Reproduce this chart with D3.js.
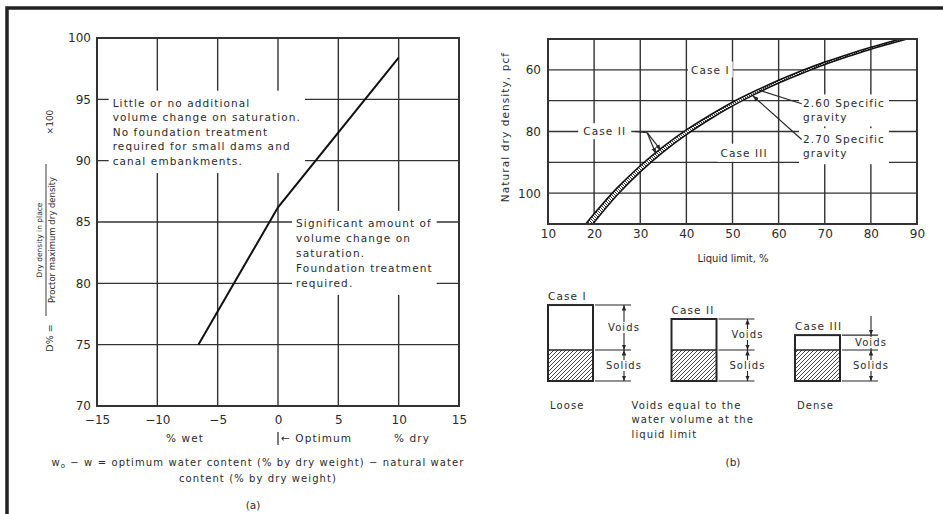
<!DOCTYPE html>
<html>
<head>
<meta charset="utf-8">
<script src="https://cdn.jsdelivr.net/npm/d3@7"></script>
<style>
  body { margin: 0; background: #fff; }
  svg text { font-family: "DejaVu Sans", sans-serif; fill: #2b2b2b; }
  svg text.lt { letter-spacing: 1.1px; }
</style>
</head>
<body>
<svg id="chart" width="943" height="514"></svg>
<script>
// ---- data ----
// (a) D% against wo - w
var aXTicks = [-15, -10, -5, 0, 5, 10, 15];
var aYTicks = [70, 75, 80, 85, 90, 95, 100];
var aWaterDiff = [-6.6, 0, 10];
var aDensity = [75, 86.2, 98.4];

// (b) natural dry density against liquid limit
var bXTicks = [10, 20, 30, 40, 50, 60, 70, 80, 90];
var bYGrid = [60, 70, 80, 90, 100];
var bYTicks = [60, 80, 100];
var bLL260 = [18.2, 20, 25, 30, 35, 40, 45, 50, 55, 60, 65, 70, 75, 80, 86.4];
var bDens260 = [110, 106.7, 98.3, 91.1, 84.9, 79.5, 74.8, 70.5, 66.8, 63.4, 60.3, 57.5, 55.0, 52.7, 50];
var bLL270 = [19.7, 25, 30, 35, 40, 45, 50, 55, 60, 65, 70, 75, 80, 87.8];
var bDens270 = [110, 100.6, 93.1, 86.6, 81.0, 76.1, 71.7, 67.8, 64.3, 61.2, 58.3, 55.7, 53.3, 50];

// volume diagrams (solids = 1)
var caseNames = ["Case I", "Case II", "Case III"];
var caseVoids = [1.45, 1.0, 0.48];
var caseSolids = [1, 1, 1];
var caseNotes = [["Loose"], ["Voids equal to the", "water volume at the", "liquid limit"], ["Dense"]];

var ink = "#262626";
var svg = d3.select("#chart");
var defs = svg.append("defs");

// hatch for solids and for the band between curves
var pat = defs.append("pattern").attr("id", "hatch")
  .attr("patternUnits", "userSpaceOnUse").attr("width", 4).attr("height", 4);
pat.append("rect").attr("width", 4).attr("height", 4).attr("fill", "#fff");
pat.append("path").attr("d", "M-1,1L1,-1M0,4L4,0M3,5L5,3")
  .attr("stroke", "#333").attr("stroke-width", 0.9);

var band = defs.append("pattern").attr("id", "band")
  .attr("patternUnits", "userSpaceOnUse").attr("width", 3).attr("height", 3);
band.append("rect").attr("width", 3).attr("height", 3).attr("fill", "#fff");
band.append("path").attr("d", "M0,0L3,3M-1,2L1,4M2,-1L4,1")
  .attr("stroke", "#222").attr("stroke-width", 0.9);

defs.append("marker").attr("id", "arr")
  .attr("viewBox", "0 0 10 10").attr("refX", 10).attr("refY", 5)
  .attr("markerWidth", 5).attr("markerHeight", 6)
  .attr("orient", "auto-start-reverse")
  .append("path").attr("d", "M0,1L10,5L0,9Z").attr("fill", ink);

// page frame
svg.append("path").attr("d", "M7,514V8H943")
  .attr("fill", "none").attr("stroke", "#222").attr("stroke-width", 3.5);

// white box behind a text so the grid breaks round it
function knockout(layer, node, px, py) {
  var b = node.getBBox();
  layer.append("rect")
    .attr("x", b.x - px).attr("y", b.y - py)
    .attr("width", b.width + 2 * px).attr("height", b.height + 2 * py)
    .attr("fill", "#fff");
}

function textBlock(layer, lines, x, y, lh, size, anchor) {
  var t = layer.append("text")
    .attr("class", "lt")
    .attr("font-size", size)
    .attr("text-anchor", anchor || "start");
  lines.forEach((s, i) => {
    t.append("tspan").attr("x", x).attr("y", y + i * lh)
      .attr("dy", "0.35em").text(s);
  });
  return t;
}

// =========================== (a) ===========================
var ax = d3.scaleLinear().domain([-15, 15]).range([97, 459]);
var ay = d3.scaleLinear().domain([70, 100]).range([406, 38]);

var aGrid = svg.append("g");
var aBg = svg.append("g");
var aMarks = svg.append("g");
var aText = svg.append("g");

aGrid.selectAll("line.v").data(aXTicks.slice(1, -1)).enter().append("line")
  .attr("x1", d => ax(d)).attr("x2", d => ax(d))
  .attr("y1", ay(100)).attr("y2", ay(70))
  .attr("stroke", "#333").attr("stroke-width", 1.4);
aGrid.selectAll("line.h").data(aYTicks.slice(1, -1)).enter().append("line")
  .attr("x1", ax(-15)).attr("x2", ax(15))
  .attr("y1", d => ay(d)).attr("y2", d => ay(d))
  .attr("stroke", "#333").attr("stroke-width", 1.4);

var note1 = textBlock(aText, ["Little or no additional", "volume change on saturation.",
  "No foundation treatment", "required for small dams and", "canal embankments."],
  ax(-13.7), ay(94.7), 14.6, 10.5);
knockout(aBg, note1.node(), 4, 6);

var note2 = textBlock(aText, ["Significant amount of", "volume change on",
  "saturation.", "Foundation treatment", "required."],
  ax(1.5), ay(84.9), 15, 10.5);
knockout(aBg, note2.node(), 4, 6);

var aLine = d3.line()
  .x((d, i) => ax(aWaterDiff[i]))
  .y(d => ay(d));
aMarks.append("path").datum(aDensity)
  .attr("d", aLine).attr("fill", "none")
  .attr("stroke", "#111").attr("stroke-width", 2);

aMarks.append("rect")
  .attr("x", ax(-15)).attr("y", ay(100))
  .attr("width", ax(15) - ax(-15)).attr("height", ay(70) - ay(100))
  .attr("fill", "none").attr("stroke", "#333").attr("stroke-width", 2);

var aXAxis = svg.append("g")
  .attr("transform", `translate(0,${ay(70)})`)
  .call(d3.axisBottom(ax).tickValues(aXTicks).tickSize(0).tickPadding(9))
  .attr("font-size", 12);
aXAxis.select(".domain").remove();

var aYAxis = svg.append("g")
  .attr("transform", `translate(${ax(-15)},0)`)
  .call(d3.axisLeft(ay).tickValues(aYTicks).tickSize(0).tickPadding(6))
  .attr("font-size", 12);
aYAxis.select(".domain").remove();

// axis captions
aText.append("text").attr("class", "lt").attr("x", 185).attr("y", 442)
  .attr("font-size", 10.5).attr("text-anchor", "middle").text("% wet");
aText.append("line")
  .attr("x1", ax(0)).attr("x2", ax(0)).attr("y1", 432).attr("y2", 445)
  .attr("stroke", ink).attr("stroke-width", 1.2);
aText.append("text").attr("class", "lt").attr("x", ax(0) + 3).attr("y", 442)
  .attr("font-size", 10.5).text("\u2190 Optimum");
aText.append("text").attr("class", "lt").attr("x", 412).attr("y", 442)
  .attr("font-size", 10.5).attr("text-anchor", "middle").text("% dry");

var cap = aText.append("text").attr("class", "lt").attr("x", 258).attr("y", 466)
  .attr("font-size", 10).attr("text-anchor", "middle");
cap.append("tspan").text("w");
cap.append("tspan").attr("font-size", 7).attr("dy", 2).text("o");
cap.append("tspan").attr("dy", -2)
  .text(" \u2212 w = optimum water content (% by dry weight) \u2212 natural water");
aText.append("text").attr("class", "lt").attr("x", 258).attr("y", 482)
  .attr("font-size", 10).attr("text-anchor", "middle")
  .text("content (% by dry weight)");
aText.append("text").attr("x", 253).attr("y", 509)
  .attr("font-size", 10.5).attr("text-anchor", "middle").text("(a)");

// rotated fraction label
var frac = svg.append("g").attr("transform", "translate(47,240) rotate(-90)");
frac.append("text").attr("x", -98).attr("y", 3)
  .attr("font-size", 9.5).attr("text-anchor", "middle")
  .attr("dominant-baseline", "middle").text("D% =");
frac.append("text").attr("x", 0).attr("y", -5.5)
  .attr("font-size", 7.5).attr("text-anchor", "middle")
  .text("Dry density in place");
frac.append("line").attr("x1", -76).attr("x2", 76).attr("y1", -1).attr("y2", -1)
  .attr("stroke", ink).attr("stroke-width", 0.9);
frac.append("text").attr("x", 0).attr("y", 7.5)
  .attr("font-size", 8.5).attr("text-anchor", "middle")
  .text("Proctor maximum dry density");
frac.append("text").attr("x", 118).attr("y", 3)
  .attr("font-size", 9).attr("text-anchor", "middle")
  .attr("dominant-baseline", "middle").text("\u00d7100");

// =========================== (b) ===========================
var bx = d3.scaleLinear().domain([10, 90]).range([548, 917]);
var by = d3.scaleLinear().domain([50, 110]).range([39, 224]);

var bGrid = svg.append("g");
var bBg = svg.append("g");
var bMarks = svg.append("g");
var bText = svg.append("g");

defs.append("clipPath").attr("id", "bclip").append("rect")
  .attr("x", bx(10)).attr("y", by(50))
  .attr("width", bx(90) - bx(10)).attr("height", by(110) - by(50));

bGrid.selectAll("line.v").data(bXTicks.slice(1, -1)).enter().append("line")
  .attr("x1", d => bx(d)).attr("x2", d => bx(d))
  .attr("y1", by(50)).attr("y2", by(110))
  .attr("stroke", "#333").attr("stroke-width", 1.4);
bGrid.selectAll("line.h").data(bYGrid).enter().append("line")
  .attr("x1", bx(10)).attr("x2", bx(90))
  .attr("y1", d => by(d)).attr("y2", d => by(d))
  .attr("stroke", "#333").attr("stroke-width", 1.4);

var lbl1 = bText.append("text").attr("class", "lt").attr("x", bx(45.2)).attr("y", by(60))
  .attr("dy", "0.35em").attr("font-size", 10.5).attr("text-anchor", "middle")
  .text("Case I");
knockout(bBg, lbl1.node(), 3, 2);
var lbl2 = bText.append("text").attr("class", "lt").attr("x", bx(22.3)).attr("y", by(80))
  .attr("dy", "0.35em").attr("font-size", 10.5).attr("text-anchor", "middle")
  .text("Case II");
knockout(bBg, lbl2.node(), 5, 2);
var lbl3 = bText.append("text").attr("class", "lt").attr("x", bx(52.5)).attr("y", by(87))
  .attr("dy", "0.35em").attr("font-size", 10.5).attr("text-anchor", "middle")
  .text("Case III");
knockout(bBg, lbl3.node(), 3, 3);

var sg260 = textBlock(bText, ["2.60 Specific", "gravity"], bx(65.3), by(71), 14, 10.5);
knockout(bBg, sg260.node(), 4, 3);
var sg270 = textBlock(bText, ["2.70 Specific", "gravity"], bx(65.3), by(82.6), 14, 10.5);
knockout(bBg, sg270.node(), 4, 5);

var pts260 = bLL260.map((v, i) => [v, bDens260[i]]);
var pts270 = bLL270.map((v, i) => [v, bDens270[i]]);
var bLine = d3.line().x(d => bx(d[0])).y(d => by(d[1])).curve(d3.curveCatmullRom);

var bandPath = bLine(pts260) + "L" + bLine(pts270.slice().reverse()).slice(1) + "Z";
var curves = bMarks.append("g").attr("clip-path", "url(#bclip)");
curves.append("path").attr("d", bandPath).attr("fill", "url(#band)");
curves.selectAll("path.c").data([pts260, pts270]).enter().append("path")
  .attr("d", bLine).attr("fill", "none")
  .attr("stroke", "#111").attr("stroke-width", 1.6);

// leaders
bMarks.append("path")
  .attr("d", `M${bx(65)},${by(71)}L${bx(55.8)},${by(66.6)}`)
  .attr("fill", "none").attr("stroke", ink).attr("stroke-width", 1.2);
bMarks.append("path")
  .attr("d", `M${bx(65)},${by(82.6)}L${bx(54.4)},${by(68.4)}`)
  .attr("fill", "none").attr("stroke", ink).attr("stroke-width", 1.2)
  .attr("marker-end", "url(#arr)");
var knee = [31.5, 80.4];
bMarks.append("path")
  .attr("d", `M${bx(28.8)},${by(80)}L${bx(knee[0])},${by(knee[1])}`)
  .attr("fill", "none").attr("stroke", ink).attr("stroke-width", 1.2);
bMarks.selectAll("path.tip").data([[33.4, 87.2], [34.5, 86.1]]).enter().append("path")
  .attr("d", d => `M${bx(knee[0])},${by(knee[1])}L${bx(d[0])},${by(d[1])}`)
  .attr("fill", "none").attr("stroke", ink).attr("stroke-width", 1.2)
  .attr("marker-end", "url(#arr)");

bMarks.append("rect")
  .attr("x", bx(10)).attr("y", by(50))
  .attr("width", bx(90) - bx(10)).attr("height", by(110) - by(50))
  .attr("fill", "none").attr("stroke", "#333").attr("stroke-width", 2);

var bXAxis = svg.append("g")
  .attr("transform", `translate(0,${by(110)})`)
  .call(d3.axisBottom(bx).tickValues(bXTicks).tickSize(0).tickPadding(5))
  .attr("font-size", 12);
bXAxis.select(".domain").remove();

var bYAxis = svg.append("g")
  .attr("transform", `translate(${bx(10)},0)`)
  .call(d3.axisLeft(by).tickValues(bYTicks).tickSize(0).tickPadding(7))
  .attr("font-size", 12);
bYAxis.select(".domain").remove();

bText.append("text").attr("x", 733).attr("y", 262)
  .attr("font-size", 10).attr("text-anchor", "middle").text("Liquid limit, %");
bText.append("text").attr("class", "lt").attr("transform", "translate(509,127) rotate(-90)")
  .attr("font-size", 10.5).attr("text-anchor", "middle")
  .text("Natural dry density, pcf");

// ------- phase diagrams -------
var cx = d3.scalePoint().domain(caseNames).range([548, 795]);
var hs = d3.scaleLinear().domain([0, 1]).range([0, 31]);
var base = 381;
var boxW = 45;
var dg = svg.append("g");
var dgBg = svg.append("g");
var dgText = svg.append("g");

caseNames.forEach((name, i) => {
  var x0 = cx(name);
  var top = base - hs(caseSolids[i] + caseVoids[i]);
  var mid = base - hs(caseSolids[i]);
  var arrowX = x0 + boxW + 31;

  dg.append("rect").attr("x", x0).attr("y", mid)
    .attr("width", boxW).attr("height", base - mid).attr("fill", "url(#hatch)");
  dg.append("line").attr("x1", x0).attr("x2", x0 + boxW).attr("y1", mid).attr("y2", mid)
    .attr("stroke", ink).attr("stroke-width", 1.6);
  dg.append("rect").attr("x", x0).attr("y", top)
    .attr("width", boxW).attr("height", base - top)
    .attr("fill", "none").attr("stroke", ink).attr("stroke-width", 2);

  [top, mid, base].forEach(yy => {
    dg.append("line").attr("x1", x0 + boxW + 2).attr("x2", x0 + boxW + 38)
      .attr("y1", yy).attr("y2", yy).attr("stroke", ink).attr("stroke-width", 1.1);
  });

  if (caseVoids[i] > 0.7) {
    dg.append("line").attr("x1", arrowX).attr("x2", arrowX).attr("y1", top).attr("y2", mid)
      .attr("stroke", ink).attr("stroke-width", 1.1)
      .attr("marker-start", "url(#arr)").attr("marker-end", "url(#arr)");
  } else {
    dg.append("line").attr("x1", arrowX).attr("x2", arrowX).attr("y1", top - 19).attr("y2", top)
      .attr("stroke", ink).attr("stroke-width", 1.1).attr("marker-end", "url(#arr)");
    dg.append("line").attr("x1", arrowX).attr("x2", arrowX).attr("y1", top).attr("y2", mid)
      .attr("stroke", ink).attr("stroke-width", 1.1);
  }
  dg.append("line").attr("x1", arrowX).attr("x2", arrowX).attr("y1", mid).attr("y2", base)
    .attr("stroke", ink).attr("stroke-width", 1.1)
    .attr("marker-start", "url(#arr)").attr("marker-end", "url(#arr)");

  var tv = dgText.append("text").attr("class", "lt").attr("x", arrowX).attr("y", (top + mid) / 2)
    .attr("dy", "0.35em").attr("font-size", 10).attr("text-anchor", "middle").text("Voids");
  knockout(dgBg, tv.node(), 1, 0);
  var ts = dgText.append("text").attr("class", "lt").attr("x", arrowX).attr("y", (mid + base) / 2)
    .attr("dy", "0.35em").attr("font-size", 10).attr("text-anchor", "middle").text("Solids");
  knockout(dgBg, ts.node(), 1, 0);

  dgText.append("text").attr("class", "lt").attr("x", x0).attr("y", top - 5)
    .attr("font-size", 10.5).text(name);

  var nx = i == 1 ? x0 - 40 : x0 + 2;
  textBlock(dgText, caseNotes[i], nx, 405, 14.5, 10);
});

dgText.append("text").attr("x", 733).attr("y", 466)
  .attr("font-size", 10.5).attr("text-anchor", "middle").text("(b)");
</script>
</body>
</html>
